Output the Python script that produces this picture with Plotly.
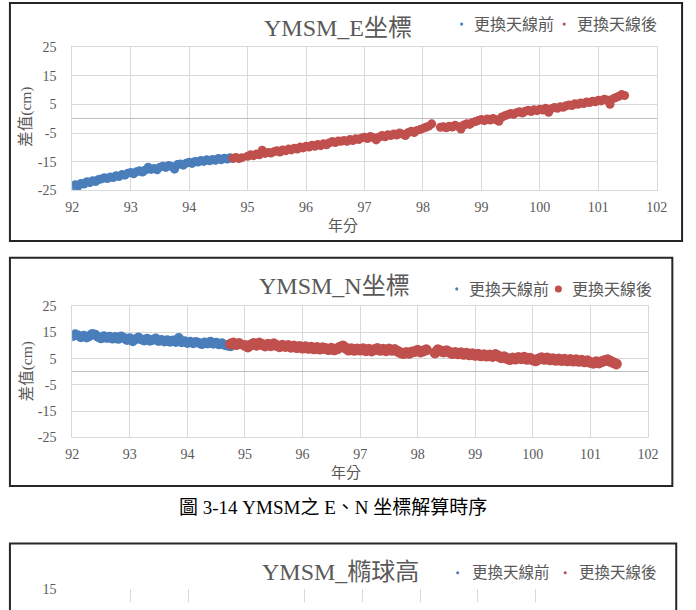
import plotly.graph_objects as go

# ---------------- data ----------------
blue_years = [
    92.00, 92.05, 92.10, 92.15, 92.20, 92.25, 92.30, 92.35, 92.40, 92.45,
    92.50, 92.55, 92.60, 92.65, 92.70, 92.75, 92.80, 92.85, 92.90, 92.95,
    93.00, 93.05, 93.10, 93.15, 93.20, 93.25, 93.30, 93.35, 93.40, 93.45,
    93.50, 93.55, 93.60, 93.65, 93.70, 93.75, 93.80, 93.85, 93.90, 93.95,
    94.00, 94.05, 94.10, 94.15, 94.20, 94.25, 94.30, 94.35, 94.40, 94.45,
    94.50, 94.55, 94.60, 94.65, 94.70, 94.75,
]
red_years = [
    94.75, 94.80, 94.85, 94.90,
    95.00, 95.05, 95.10, 95.15, 95.20, 95.25, 95.30, 95.35, 95.40, 95.45,
    95.50, 95.55, 95.60, 95.65, 95.70, 95.75, 95.80, 95.85, 95.90, 95.95,
    96.00, 96.05, 96.10, 96.15, 96.20, 96.25, 96.30, 96.35, 96.40, 96.45,
    96.50, 96.55, 96.60, 96.65, 96.70, 96.75, 96.80, 96.85, 96.90, 96.95,
    97.00, 97.05, 97.10, 97.15, 97.20, 97.25, 97.30, 97.35, 97.40, 97.45,
    97.50, 97.55, 97.60, 97.65, 97.70, 97.75, 97.80, 97.85, 97.90, 97.95,
    98.00, 98.05, 98.10, 98.15,
    98.30, 98.35, 98.40, 98.45, 98.50, 98.55, 98.60, 98.65, 98.70, 98.75,
    98.80, 98.85, 98.90, 98.95,
    99.00, 99.05, 99.10, 99.15, 99.20, 99.25, 99.30, 99.35, 99.40, 99.45,
    99.50, 99.55, 99.60, 99.65, 99.70, 99.75, 99.80, 99.85, 99.90, 99.95,
    100.00, 100.05, 100.10, 100.15, 100.20, 100.25, 100.30, 100.35, 100.40, 100.45,
    100.50, 100.55, 100.60, 100.65, 100.70, 100.75, 100.80, 100.85, 100.90, 100.95,
    101.00, 101.05, 101.10, 101.15, 101.20, 101.25, 101.30, 101.35, 101.40, 101.45,
]

# E coordinate differences (cm)
blue_E = [
    -23.4, -23.0, -23.5, -22.6, -22.8, -22.0, -22.3, -21.6, -21.9, -21.2,
    -21.0, -20.6, -20.9, -20.3, -20.5, -19.9, -20.2, -19.5, -19.7, -19.0,
    -18.8, -19.2, -18.5, -18.2, -18.6, -17.9, -16.9, -17.7, -17.4, -17.8,
    -16.9, -16.6, -17.0, -16.3, -16.7, -17.6, -16.0, -15.8, -16.2, -15.5,
    -15.2, -15.6, -14.9, -15.1, -14.6, -14.9, -14.3, -14.7, -14.2, -14.5,
    -13.9, -14.3, -13.8, -14.1, -13.6, -13.9,
]
red_E = [
    -13.8, -13.5, -13.9, -13.6,
    -13.1, -12.6, -12.9, -12.3, -12.6, -11.0, -12.1, -11.8, -12.0, -11.5,
    -11.2, -11.6, -10.9, -11.2, -10.6, -10.9, -10.3, -10.6, -9.9, -10.2,
    -9.6, -9.9, -9.3, -9.6, -9.0, -9.4, -8.7, -9.1, -8.4, -8.0,
    -8.3, -7.8, -7.9, -7.6, -7.9, -7.3, -7.6, -7.0, -7.3, -6.7,
    -6.5, -6.9, -6.2, -6.6, -7.4, -6.4, -5.9, -6.3, -5.6, -5.9,
    -5.3, -5.7, -5.0, -5.4, -5.9, -4.8, -4.4, -4.8, -4.1, -3.8,
    -3.4, -3.0, -2.6, -1.8,
    -3.0, -2.8, -3.2, -2.6, -2.9, -2.3, -2.7, -3.6, -2.2, -1.8,
    -2.0, -1.3, -1.0, -0.6,
    -0.3, -0.7, -0.1, -0.5, 0.1, -0.4, -0.9, 0.6, 1.0, 1.4,
    1.8, 1.5, 2.1, 2.4, 2.0, 2.6, 2.9, 2.5, 3.1, 2.8,
    3.3, 3.0, 3.6, 2.2, 3.5, 3.9, 3.6, 4.2, 4.0, 4.5,
    4.8, 4.6, 5.2, 5.0, 5.5, 5.3, 5.8, 5.6, 6.1, 5.9,
    6.4, 6.2, 6.8, 6.5, 5.0, 6.9, 7.4, 7.8, 8.4, 8.1,
]

# N coordinate differences (cm)
blue_N = [
    13.6, 14.4, 13.9, 13.2, 13.8, 13.1, 13.7, 14.5, 14.2, 13.3,
    12.8, 13.6, 12.9, 13.4, 12.7, 13.3, 12.6, 13.5, 12.9, 12.2,
    12.8, 11.7, 12.5, 13.1, 12.4, 12.0, 12.6, 11.9, 12.3, 12.7,
    11.8, 12.2, 11.6, 12.1, 11.5, 12.0, 11.4, 12.9, 11.3, 11.7,
    11.0, 11.5, 10.9, 11.4, 11.0, 10.6, 11.2, 10.8, 11.5, 10.7,
    11.1, 10.5, 10.9, 10.3, 10.0, 9.8,
]
red_N = [
    10.6, 11.0, 10.4, 10.8,
    10.1, 9.5, 10.3, 10.8, 10.2, 11.0, 10.4, 9.9, 10.5, 10.0,
    10.7, 10.1, 9.6, 10.2, 9.7, 10.1, 9.4, 9.9, 9.3, 9.7,
    9.1, 9.6, 9.0, 9.4, 8.8, 9.3, 8.7, 9.2, 8.9, 8.5,
    9.0, 8.4, 8.8, 9.4, 9.9, 9.1, 8.3, 8.8, 8.2, 8.7,
    8.3, 8.8, 8.1, 8.6, 8.0, 8.5, 8.9, 8.2, 8.6, 8.1,
    8.7, 8.2, 8.5, 7.9, 7.3, 7.0, 7.4, 7.1, 7.6, 7.8,
    8.2, 7.6, 8.0, 8.4,
    7.2, 8.4, 8.0, 7.6, 8.1, 7.5, 7.0, 7.4, 6.9, 7.3,
    6.7, 7.1, 6.5, 6.9,
    6.3, 6.7, 6.1, 6.5, 6.0, 6.4, 5.9, 6.6, 6.0, 5.4,
    5.8, 5.1, 4.7, 5.3, 4.9, 5.5, 5.0, 5.6, 4.8, 5.2,
    4.6, 4.2, 4.9, 5.4, 4.8, 5.3, 4.6, 5.0, 4.4, 4.9,
    4.3, 4.8, 4.2, 4.7, 4.1, 4.6, 4.0, 4.4, 3.8, 4.2,
    3.6, 3.3, 3.8, 3.4, 3.9, 4.3, 4.6, 4.0, 3.5, 3.0,
]

x_range = [92, 102]
x_ticks = [92, 93, 94, 95, 96, 97, 98, 99, 100, 101, 102]
x_ticks_h = [92, 93, 94, 96, 97, 98, 99, 100, 102]
y_range = [-25, 25]
y_ticks = [-25, -15, -5, 5, 15, 25]
y_ticktext = ["-25", "-15", "-5", "5", "15", "25"]
h_range = [10.6, 15]
h_ticks = [15]

series_names = ["更換天線前", "更換天線後"]
titles = ["YMSM_E坐標", "YMSM_N坐標", "YMSM_橢球高"]
x_title = "年分"
y_title = "差值(cm)"
caption = "圖 3-14 YMSM之 E、N 坐標解算時序"

# ---------------- styling ----------------
W, H = 696, 610
def fx(x):
    return x / W
def fy(y):
    return 1 - y / H

FONT = "Liberation Serif, Noto Sans CJK TC, serif"
GRAY = "#595959"
GRID = "#d9d9d9"
BLUE = "#4A7EBB"
RED = "#C0504D"

fig = go.Figure()
fig.add_trace(go.Scatter(x=blue_years, y=blue_E, mode="markers", name=series_names[0],
                         marker=dict(color=BLUE, size=9, line=dict(width=0)),
                         xaxis="x", yaxis="y", showlegend=False))
fig.add_trace(go.Scatter(x=red_years, y=red_E, mode="markers", name=series_names[1],
                         marker=dict(color=RED, size=9, line=dict(width=0)),
                         xaxis="x", yaxis="y", showlegend=False))
fig.add_trace(go.Scatter(x=blue_years, y=blue_N, mode="markers", name=series_names[0],
                         marker=dict(color=BLUE, size=10, line=dict(width=0)),
                         xaxis="x2", yaxis="y2", showlegend=False))
fig.add_trace(go.Scatter(x=red_years, y=red_N, mode="markers", name=series_names[1],
                         marker=dict(color=RED, size=11, line=dict(width=0)),
                         xaxis="x2", yaxis="y2", showlegend=False))
fig.add_trace(go.Scatter(x=[], y=[], mode="markers", xaxis="x3", yaxis="y3",
                         showlegend=False))

tickfont = dict(family=FONT, size=14, color=GRAY)

def xax(domain, anchor, tickvals, labels=True, line=True):
    return dict(domain=domain, anchor=anchor, range=x_range, tickvals=tickvals,
                showgrid=True, gridcolor=GRID, gridwidth=1, zeroline=False,
                showline=line, linecolor=GRID, mirror=line,
                ticks="outside", ticklen=4, tickcolor="rgba(0,0,0,0)",
                showticklabels=labels, tickfont=tickfont, fixedrange=True)

def yax(domain, anchor, rng, tickvals, ticktext, line=True):
    return dict(domain=domain, anchor=anchor, range=rng, tickvals=tickvals,
                ticktext=ticktext,
                showgrid=True, gridcolor=GRID, gridwidth=1,
                zeroline=True, zerolinecolor="#bfbfbf", zerolinewidth=1,
                showline=line, linecolor=GRID, mirror=line,
                ticks="outside", ticklen=12, tickcolor="rgba(0,0,0,0)",
                tickfont=tickfont, fixedrange=True)

fig.update_layout(
    width=W, height=H, margin=dict(l=0, r=0, t=0, b=0),
    paper_bgcolor="white", plot_bgcolor="white", showlegend=False,
    xaxis=xax([fx(67), fx(667)], "y", x_ticks),
    yaxis=yax([fy(188), fy(41)], "x", y_range, y_ticks, y_ticktext),
    xaxis2=xax([fx(67), fx(658)], "y2", x_ticks),
    yaxis2=yax([fy(441), fy(307)], "x2", y_range, y_ticks, y_ticktext),
    xaxis3=xax([fx(67), fx(662)], "y3", x_ticks_h, labels=False, line=False),
    yaxis3=yax([0, fy(597)], "x3", h_range, h_ticks, [str(v) for v in h_ticks], line=False),
)

shapes = []
# chart frames
for (x0, y0, x1, y1) in [(3, -4, 693, 240), (3, 257, 683, 491), (3, 550, 687, 620)]:
    shapes.append(dict(type="rect", xref="paper", yref="paper",
                       x0=fx(x0), x1=fx(x1), y0=fy(y1), y1=fy(y0),
                       line=dict(color="#262626", width=2), fillcolor="rgba(0,0,0,0)"))
# legend markers
def dot(cx, cy, r, color):
    shapes.append(dict(type="circle", xref="paper", yref="paper",
                       x0=fx(cx - r), x1=fx(cx + r), y0=fy(cy + r), y1=fy(cy - r),
                       fillcolor=color, line=dict(width=0)))
dot(466.7, 17.5, 1.6, BLUE); dot(572, 17.5, 1.6, RED)
dot(461.7, 289, 1.6, BLUE); dot(566, 289, 3.6, RED)
dot(462.7, 580, 1.6, BLUE); dot(573, 580, 1.6, RED)
fig.update_layout(shapes=shapes)

ann = []
def text(t, x, y, size, color=GRAY, xanchor="center", angle=0):
    ann.append(dict(text=t, x=fx(x), y=fy(y), xref="paper", yref="paper",
                    xanchor=xanchor, yanchor="middle", showarrow=False,
                    textangle=angle, font=dict(family=FONT, size=size, color=color)))

# titles
text(titles[0], 339.5, 22, 24)
text(titles[1], 336, 286, 24)
text(titles[2], 342, 579, 24)
# legends
for (bx, rx, y, s) in [(477.7, 583, 17.5, 16), (472, 578, 290, 16), (475, 585, 580, 15.5)]:
    text(series_names[0], bx, y, s, xanchor="left")
    text(series_names[1], rx, y, s, xanchor="left")
# axis titles
text(x_title, 345, 225, 15)
text(x_title, 348, 478, 15)
text(y_title, 20, 112, 15.5, angle=-90)
text(y_title, 20, 373, 15.5, angle=-90)
# caption
text(caption, 335, 513, 19, color="#000000")
fig.update_layout(annotations=ann)

fig.write_html("out.html")
